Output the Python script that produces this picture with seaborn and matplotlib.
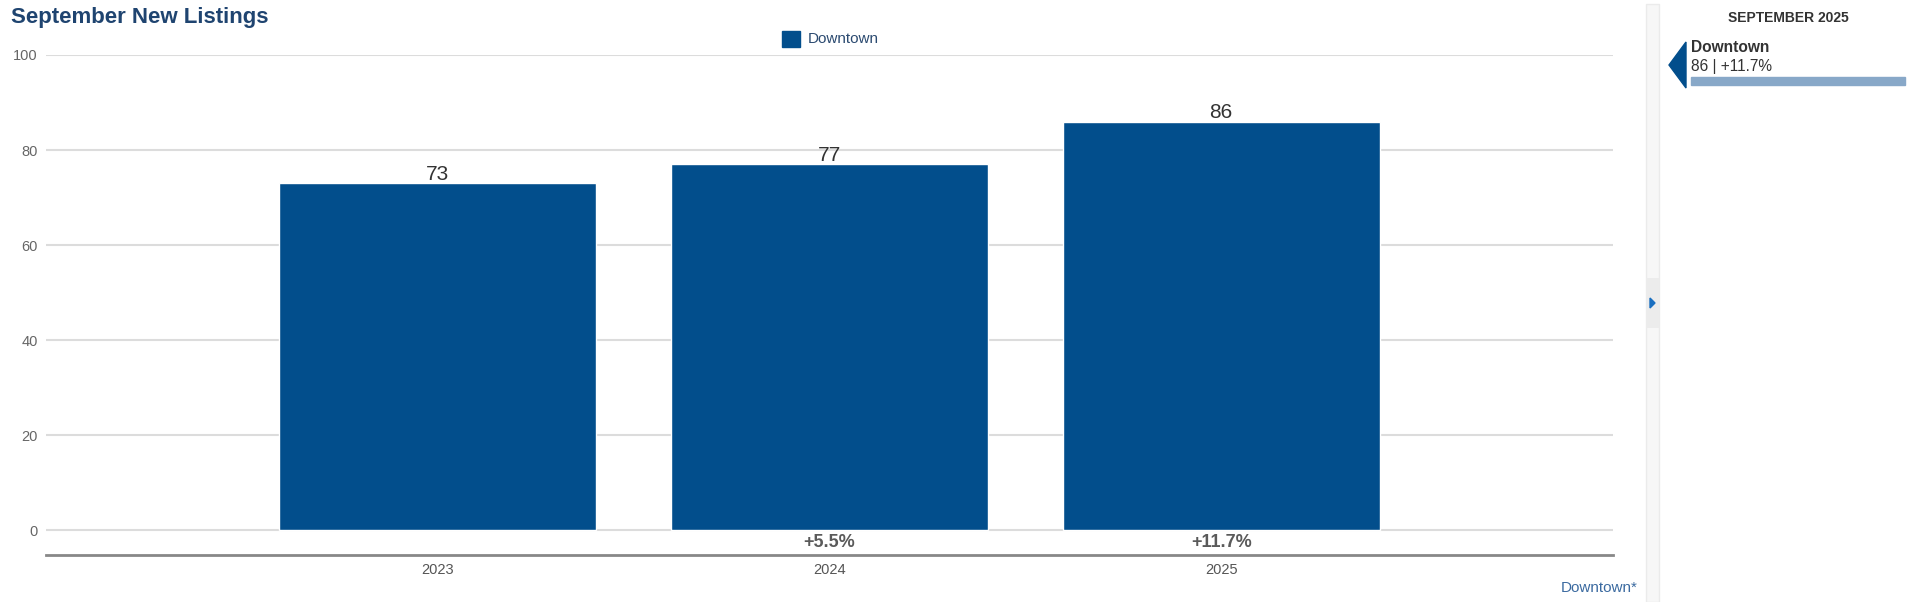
import pandas as pd
import matplotlib.pyplot as plt
import seaborn as sns
from matplotlib.patches import Polygon, Rectangle

years = ["2023", "2024", "2025"]
listings = [73, 77, 86]
changes = ["", "+5.5%", "+11.7%"]
area = "Downtown"

df = pd.DataFrame({"year": years, "listings": listings})

sns.set_style("white")
plt.rcParams["font.family"] = ["Liberation Sans", "DejaVu Sans"]

bar_color = "#024e8c"
fig = plt.figure(figsize=(19.2, 6.02), dpi=100)
ax = fig.add_axes([46 / 1920, 1 - 555 / 602, (1613 - 46) / 1920, (555 - 55) / 602])

sns.barplot(data=df, x="year", y="listings", color=bar_color, saturation=1,
            width=0.81, ax=ax, zorder=3)

ax.set_xlim(-1, 3)
ax.set_ylim(-5.26, 100)
ax.set_yticks([0, 20, 40, 60, 80, 100])
ax.grid(axis="y", color="#dcdcdc", linewidth=1.5, zorder=0)
ax.set_xlabel("")
ax.set_ylabel("")
for s in ["top", "right", "left"]:
    ax.spines[s].set_visible(False)
ax.spines["bottom"].set_color("#888888")
ax.spines["bottom"].set_linewidth(2)
ax.tick_params(axis="y", length=0, labelsize=10.5, labelcolor="#666666", pad=6)
ax.tick_params(axis="x", length=0, labelsize=10.5, labelcolor="#555555", pad=6)

# value labels and year-over-year change
for i, (v, c) in enumerate(zip(listings, changes)):
    ax.text(i, v + 0.65, str(v), ha="center", va="baseline", fontsize=15, color="#333333")
    if c:
        ax.text(i, -2.6, c, ha="center", va="center", fontsize=13,
                fontweight="bold", color="#5a5a5a")

# title and legend
fig.text(11 / 1920, 1 - 18 / 602, "September New Listings", fontsize=16,
         fontweight="bold", color="#1f4470", va="center", ha="left")
fig.patches.append(Rectangle((782 / 1920, 1 - 47 / 602), 18 / 1920, 16 / 602,
                             transform=fig.transFigure, color=bar_color))
fig.text(808 / 1920, 1 - 39 / 602, area, fontsize=11, color="#2b4a70",
         va="center", ha="left")
fig.text(1638 / 1920, 1 - 588 / 602, area + "*", fontsize=11, color="#3b6aa0",
         va="center", ha="right")

# side panel
fig.patches.append(Rectangle((1646 / 1920, 0), 13 / 1920, 1 - 4 / 602,
                             transform=fig.transFigure, facecolor="#f7f7f7",
                             edgecolor="#ebebeb", linewidth=1))
fig.patches.append(Rectangle((1646 / 1920, 1 - 328 / 602), 13 / 1920, 50 / 602,
                             transform=fig.transFigure, facecolor="#ececec",
                             edgecolor="none"))
fig.patches.append(Polygon([(1650 / 1920, 1 - 298 / 602), (1650 / 1920, 1 - 308 / 602),
                            (1655 / 1920, 1 - 303 / 602)],
                           closed=True, transform=fig.transFigure, color="#1a6fc0"))
fig.text(1788 / 1920, 1 - 18 / 602, "SEPTEMBER 2025", fontsize=10,
         fontweight="bold", color="#333333", ha="center", va="center")
fig.patches.append(Polygon([(1686 / 1920, 1 - 42 / 602), (1686 / 1920, 1 - 88 / 602),
                            (1669 / 1920, 1 - 65 / 602)],
                           closed=True, transform=fig.transFigure, color=bar_color))
fig.text(1691 / 1920, 1 - 48 / 602, area, fontsize=11.2, fontweight="bold",
         color="#333333", ha="left", va="center")
fig.text(1691 / 1920, 1 - 66 / 602, f"{listings[-1]} | {changes[-1]}", fontsize=11.2,
         color="#333333", ha="left", va="center")
fig.patches.append(Rectangle((1691 / 1920, 1 - 85 / 602), 214 / 1920, 8 / 602,
                             transform=fig.transFigure, color="#88a8c8"))

fig.savefig("out.png", dpi=100, facecolor="white")
